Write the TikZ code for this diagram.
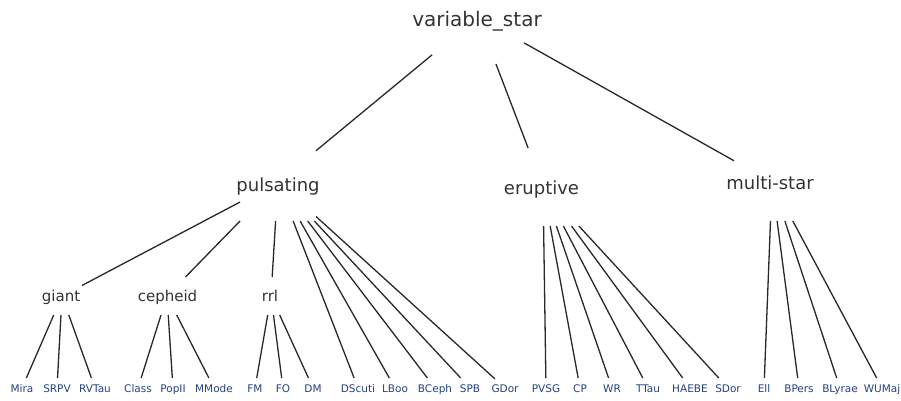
\documentclass[tikz,border=0pt]{standalone}
\usepackage{fontspec}
\setmainfont{DejaVu Sans}
\definecolor{txt}{RGB}{51,51,51}
\definecolor{leafc}{RGB}{35,65,130}
\definecolor{edgec}{RGB}{40,40,40}
\tikzset{
  hub/.style 2 args={minimum width=#1, minimum height=#2, inner sep=0pt, outer sep=0pt, draw=none},
  rootbox/.style={hub={92pt}{94pt}},
  midbox/.style={hub={76pt}{78pt}},
  subbox/.style={hub={40pt}{38pt}},
  leafbox/.style={hub={20pt}{20pt}},
  lbl/.style={anchor=base, inner sep=0pt, text=txt},
  rootlbl/.style={lbl, font=\fontsize{20}{24}\selectfont},
  midlbl/.style={lbl, font=\fontsize{18}{22}\selectfont},
  sublbl/.style={lbl, font=\fontsize{15}{18}\selectfont},
  leaflbl/.style={lbl, text=leafc, font=\fontsize{10.5}{12}\selectfont},
  edge/.style={draw=edgec, line width=1.3pt}
}
\begin{document}
\begin{tikzpicture}[x=1pt, y=-1pt]
\useasboundingbox (0,0) rectangle (901,401);
% clipping boxes (invisible) and labels
\node[rootbox] (root) at (478,17) {};
\node[rootlbl] (root-t) at (477,26.5) {variable\_star};

\node[midbox] (pulsating) at (278,182) {};
\node[midlbl] (pulsating-t) at (278,191) {pulsating};
\node[midbox] (eruptive) at (543,187) {};
\node[midlbl] (eruptive-t) at (541.5,194) {eruptive};
\node[midbox] (multi) at (772,182) {};
\node[midlbl] (multi-t) at (770,189.5) {multi-star};

\node[subbox] (giant) at (62,296) {};
\node[sublbl] (giant-t) at (61,301) {giant};
\node[subbox] (cepheid) at (167,296) {};
\node[sublbl] (cepheid-t) at (167.5,301) {cepheid};
\node[subbox] (rrl) at (271,296) {};
\node[sublbl] (rrl-t) at (270,301) {rrl};

\foreach \n/\x in {Mira/22, SRPV/57, RVTau/95, Class/138, PopII/173, MMode/214,
  FM/255, FO/283, DM/313, DScuti/358, LBoo/395, BCeph/435, SPB/470, GDor/505,
  PVSG/546, CP/580, WR/612, TTau/648, HAEBE/690, SDor/728,
  Ell/764, BPers/799, BLyrae/840, WUMaj/882}{
  \node[leafbox] (\n) at (\x,388) {};
  \node[leaflbl] (\n-t) at (\x,392.3) {\n};
}

% connectors
\foreach \c in {pulsating, eruptive, multi}
  \draw[edge] (root) -- (\c);
\foreach \c in {giant, cepheid, rrl, DScuti, LBoo, BCeph, SPB, GDor}
  \draw[edge] (pulsating) -- (\c);
\foreach \c in {Mira, SRPV, RVTau}
  \draw[edge] (giant) -- (\c);
\foreach \c in {Class, PopII, MMode}
  \draw[edge] (cepheid) -- (\c);
\foreach \c in {FM, FO, DM}
  \draw[edge] (rrl) -- (\c);
\foreach \c in {PVSG, CP, WR, TTau, HAEBE, SDor}
  \draw[edge] (eruptive) -- (\c);
\foreach \c in {Ell, BPers, BLyrae, WUMaj}
  \draw[edge] (multi) -- (\c);
\end{tikzpicture}
\end{document}
